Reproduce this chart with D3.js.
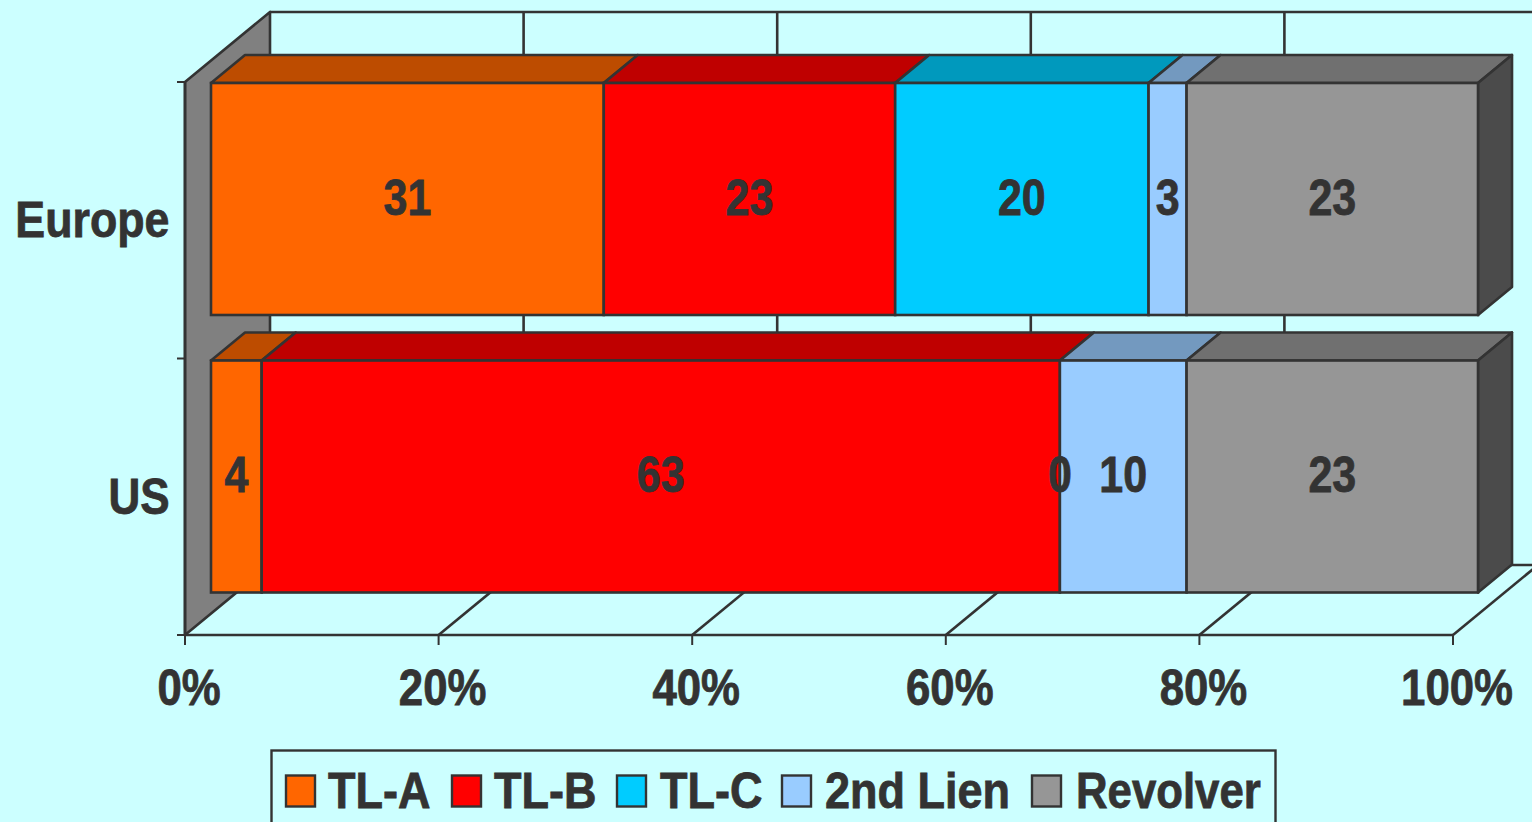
<!DOCTYPE html>
<html><head><meta charset="utf-8">
<script src="https://cdnjs.cloudflare.com/ajax/libs/d3/7.8.5/d3.min.js"></script>
<style>html,body{margin:0;padding:0;background:#CCFFFF;overflow:hidden}svg{display:block}
text{font-family:"Liberation Sans",Arial,sans-serif;font-weight:bold;fill:#333;stroke:#333;stroke-width:.8px}</style>
</head><body><svg id="c" width="1532" height="822"></svg>
<script>
const categories = ["Europe","US"];
const seriesNames = ["TL-A","TL-B","TL-C","2nd Lien","Revolver"];
const tlA = [31,4];
const tlB = [23,63];
const tlC = [20,0];
const lien2 = [3,10];
const revolver = [23,23];
const xTicks = [0,20,40,60,80,100];
const colors = ["#FF6600","#FF0000","#00CCFF","#99CCFF","#969696"];
const topColors = ["#BD4C00","#BF0000","#0099BD","#7399BF","#707070"];
const sideColor = "#4B4B4B";
const ink = "#333333";

const svg = d3.select("#c");
svg.append("rect").attr("width",1532).attr("height",822).attr("fill","#CCFFFF");

const x = d3.scaleLinear().domain([0,100]).range([185,1453]);
const y = d3.scaleBand().domain(categories).range([82,635]);
const wallDx = 85, wallDy = -70;      // full depth of the 3-D box
const barOffX = 26, barDx = 34, barDy = -28; // bar placement in depth
const barW = 1267/1268;

const rows = categories.map((c,i)=>({cat:c,"TL-A":tlA[i],"TL-B":tlB[i],"TL-C":tlC[i],"2nd Lien":lien2[i],"Revolver":revolver[i]}));
const stacked = d3.stack().keys(seriesNames)(rows);

const line = (g,x1,y1,x2,y2,w=2.6)=>g.append("line").attr("x1",x1).attr("y1",y1).attr("x2",x2).attr("y2",y2).attr("stroke",ink).attr("stroke-width",w);
const poly = (g,pts,fill)=>g.append("polygon").attr("points",pts.map(p=>p.join(",")).join(" ")).attr("fill",fill).attr("stroke",ink).attr("stroke-width",2.6).attr("stroke-linejoin","round");

function txt(g,px,py,str,size,anchor,sx){
  return g.append("text").attr("transform",`translate(${px},${py}) scale(${sx},1)`)
    .attr("font-size",size).attr("text-anchor",anchor).text(str);
}

// walls
const walls = svg.append("g");
const y0 = 82, y1 = 635;
poly(walls,[[x(0),y0],[x(0)+wallDx,y0+wallDy],[x(0)+wallDx,y1+wallDy],[x(0),y1]],"#808080");
line(walls,x(0)+wallDx,y0+wallDy,x(100)+wallDx,y0+wallDy);
line(walls,x(0)+wallDx,y1+wallDy,x(100)+wallDx,y1+wallDy);
line(walls,x(0),y1,x(100),y1);
xTicks.forEach(t=>{
  if(t>0) line(walls,x(t)+wallDx,y0+wallDy,x(t)+wallDx,y1+wallDy);
  if(t>0) line(walls,x(t),y1,x(t)+wallDx,y1+wallDy);
  line(walls,x(t),y1,x(t),y1+10,2);
});
line(walls,x(0)-8,y0,x(0),y0,2);
line(walls,x(0)-8,(y0+y1)/2,x(0),(y0+y1)/2,2);
line(walls,x(0)-8,y1,x(0),y1,2);
line(walls,x(0),y0,x(0),y1);

// bars
const bars = svg.append("g");
const bx = v=>x(0)+barOffX+(x(v)-x(0))*barW;
categories.forEach((cat,ci)=>{
  const h = 232;
  const yT = y(cat)+1+(ci===1?1:0), yB = yT+h;
  stacked.forEach((s,si)=>{
    const [a,b] = s[ci];
    if(b-a<=0) return;
    poly(bars,[[bx(a),yT],[bx(a)+barDx,yT+barDy],[bx(b)+barDx,yT+barDy],[bx(b),yT]],topColors[si]);
  });
  poly(bars,[[bx(100),yT],[bx(100)+barDx,yT+barDy],[bx(100)+barDx,yB+barDy],[bx(100),yB]],sideColor);
  stacked.forEach((s,si)=>{
    const [a,b] = s[ci];
    if(b-a<=0) return;
    bars.append("rect").attr("x",bx(a)).attr("y",yT).attr("width",bx(b)-bx(a)).attr("height",h)
      .attr("fill",colors[si]).attr("stroke",ink).attr("stroke-width",2.6);
  });
  stacked.forEach((s,si)=>{
    const [a,b] = s[ci];
    const cx = (bx(a)+bx(b))/2;
    txt(svg,cx,yT+131.5,String(b-a),50,"middle",0.86);
  });
});

// axis labels
xTicks.forEach(t=>txt(svg,x(t)+4,704.5,t+"%",50,"middle",0.875));
txt(svg,169.5,237,categories[0],50,"end",0.895);
txt(svg,169.5,514,categories[1],50,"end",0.88);

// legend
svg.append("rect").attr("x",271.5).attr("y",750.5).attr("width",1004).attr("height",90).attr("fill","#CCFFFF").attr("stroke",ink).attr("stroke-width",2.4);
const swatchX = [286,452,617,782,1032], textX = [328,494,660,825,1076], legendScale = [0.9,0.9,0.9,0.9,0.875];
seriesNames.forEach((n,i)=>{
  svg.append("rect").attr("x",swatchX[i]).attr("y",775.5).attr("width",29).attr("height",31).attr("fill",colors[i]).attr("stroke",ink).attr("stroke-width",2.4);
  txt(svg,textX[i],808,n,50,"start",legendScale[i]);
});
</script></body></html>
